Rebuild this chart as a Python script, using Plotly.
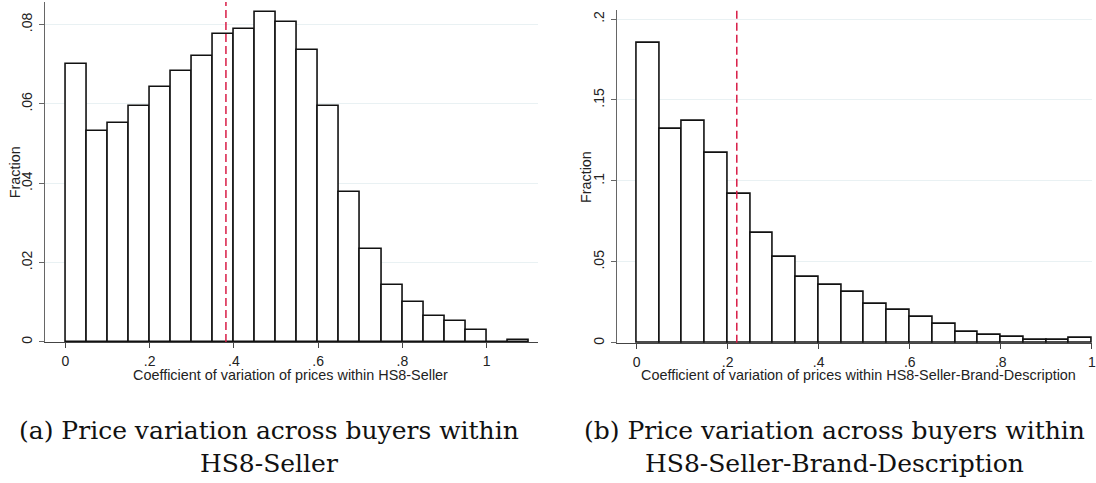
import plotly.graph_objects as go

# ---------------- data ----------------
bin_width = 0.05
left_bins = [0.00, 0.05, 0.10, 0.15, 0.20, 0.25, 0.30, 0.35, 0.40, 0.45, 0.50,
             0.55, 0.60, 0.65, 0.70, 0.75, 0.80, 0.85, 0.90, 0.95, 1.00, 1.05]
left_frac = [0.0700, 0.0531, 0.0551, 0.0596, 0.0642, 0.0683, 0.0721, 0.0776, 0.0789,
             0.0832, 0.0806, 0.0737, 0.0595, 0.0379, 0.0234, 0.0144, 0.0100, 0.0065,
             0.0052, 0.0030, 0.0000, 0.0004]
left_mean = 0.381

right_bins = [0.00, 0.05, 0.10, 0.15, 0.20, 0.25, 0.30, 0.35, 0.40, 0.45,
              0.50, 0.55, 0.60, 0.65, 0.70, 0.75, 0.80, 0.85, 0.90, 0.95]
right_frac = [0.1855, 0.1324, 0.1369, 0.1172, 0.0920, 0.0678, 0.0529, 0.0406, 0.0359,
              0.0317, 0.0240, 0.0205, 0.0160, 0.0117, 0.0065, 0.0051, 0.0037, 0.0020,
              0.0019, 0.0028]
right_mean = 0.220

x_tickvals = [0, 0.2, 0.4, 0.6, 0.8, 1.0]
x_ticktext = ["0", ".2", ".4", ".6", ".8", "1"]
left_yvals = [0, 0.02, 0.04, 0.06, 0.08]
left_ytext = ["0", ".02", ".04", ".06", ".08"]
right_yvals = [0, 0.05, 0.10, 0.15, 0.20]
right_ytext = ["0", ".05", ".1", ".15", ".2"]

left_xtitle = "Coefficient of variation of prices within HS8-Seller"
right_xtitle = "Coefficient of variation of prices within HS8-Seller-Brand-Description"
ytitle = "Fraction"
cap_a = "(a) Price variation across buyers within<br>HS8-Seller"
cap_b = "(b) Price variation across buyers within<br>HS8-Seller-Brand-Description"

# ---------------- figure ----------------
W, H = 1096, 483
fig = go.Figure()

def centers(bins):
    return [b + bin_width / 2 for b in bins]

bar_style = dict(marker=dict(color="white", line=dict(color="#111111", width=1.6)),
                 width=bin_width, showlegend=False, hoverinfo="skip")
fig.add_trace(go.Bar(x=centers(left_bins), y=left_frac, xaxis="x", yaxis="y", **bar_style))
fig.add_trace(go.Bar(x=centers(right_bins), y=right_frac, xaxis="x2", yaxis="y2", **bar_style))

def px_x(p):
    return p / W

def px_y(p):
    return (H - p) / H

axis_font = dict(family="Liberation Sans, Arial, sans-serif", size=14, color="#222")
common_x = dict(tickvals=x_tickvals, ticktext=x_ticktext, showgrid=False, zeroline=False,
                showline=True, linecolor="#444", linewidth=1.3, ticks="outside",
                ticklen=5, tickcolor="#444", tickfont=axis_font, ticklabelstandoff=1,
                ticklabeloverflow="allow")
common_y = dict(showgrid=True, gridcolor="#e9f1f3", gridwidth=1, zeroline=False,
                showline=True, linecolor="#666", linewidth=1.3, ticks="outside",
                ticklen=5, tickcolor="#666", tickfont=axis_font, tickangle=-90,
                ticklabelstandoff=1)

fig.update_layout(
    width=W, height=H, margin=dict(l=0, r=0, t=0, b=0),
    paper_bgcolor="white", plot_bgcolor="white", bargap=0,
    xaxis=dict(domain=[px_x(45), px_x(540)], range=[-0.049, 1.122], anchor="y", **common_x),
    yaxis=dict(domain=[px_y(343.3), px_y(2)], range=[0, 0.0857], anchor="x",
               tickvals=left_yvals, ticktext=left_ytext, **common_y),
    xaxis2=dict(domain=[px_x(619), 1.0], range=[-0.0438, 1.0005], anchor="y2", **common_x),
    yaxis2=dict(domain=[px_y(344.3), px_y(10)], range=[0, 0.2056], anchor="x2",
                tickvals=right_yvals, ticktext=right_ytext, **common_y),
)

# mean lines
dash_line = dict(color="#d81b45", width=1.5, dash="8px,4px")
fig.add_shape(type="line", xref="x", yref="y domain", x0=left_mean, x1=left_mean,
              y0=0, y1=1, line=dash_line, layer="above")
fig.add_shape(type="line", xref="x2", yref="y2 domain", x0=right_mean, x1=right_mean,
              y0=0, y1=1, line=dash_line, layer="above")

title_font = dict(family="Liberation Sans, Arial, sans-serif", size=14.4, color="#222")
ann = dict(xref="paper", yref="paper", showarrow=False, xanchor="center", yanchor="middle")
# axis titles
fig.add_annotation(text=ytitle, x=px_x(15), y=px_y(173), textangle=-90, font=title_font, **ann)
fig.add_annotation(text=ytitle, x=px_x(588), y=px_y(178), textangle=-90, font=title_font, **ann)
fig.add_annotation(text=left_xtitle, x=px_x(292), y=px_y(377), font=title_font, **ann)
fig.add_annotation(text=right_xtitle, x=px_x(862), y=px_y(377), font=title_font, **ann)

# captions
cap_font = dict(family="DejaVu Serif, serif", size=25, color="#111")
fig.add_annotation(text=cap_a, x=px_x(270), y=px_y(449), font=cap_font, align="center", **ann)
fig.add_annotation(text=cap_b, x=px_x(838), y=px_y(449), font=cap_font, align="center", **ann)

fig.write_html("out.html", config={"displayModeBar": False},
               post_script="document.body.style.margin='0';")
